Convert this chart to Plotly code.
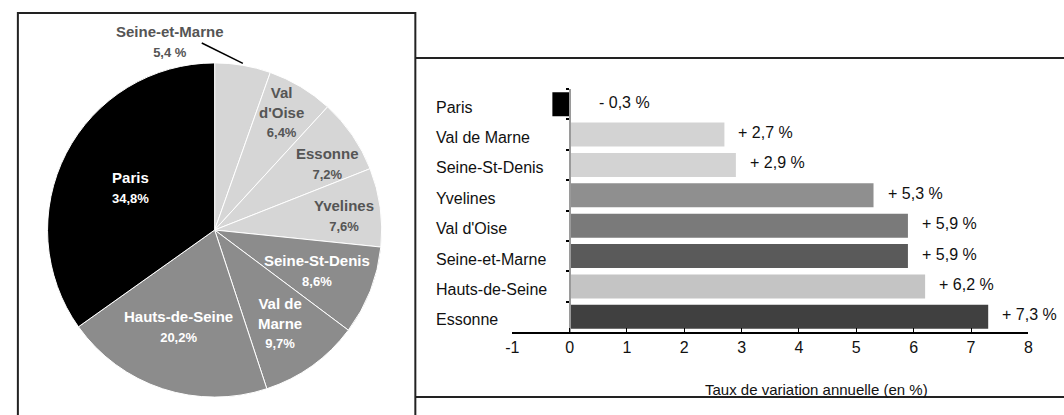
import math
import plotly.graph_objects as go

# ---------------- data ----------------
pie_labels = ["Seine-et-Marne", "Val d'Oise", "Essonne", "Yvelines",
              "Seine-St-Denis", "Val de Marne", "Hauts-de-Seine", "Paris"]
pie_values = [5.4, 6.4, 7.2, 7.6, 8.6, 9.7, 20.2, 34.8]
pie_text_names = ["Seine-et-Marne", "Val<br>d'Oise", "Essonne", "Yvelines",
                  "Seine-St-Denis", "Val de<br>Marne", "Hauts-de-Seine", "Paris"]
pie_text_pcts = ["5,4 %", "6,4%", "7,2%", "7,6%", "8,6%", "9,7%", "20,2%", "34,8%"]

bar_categories = ["Paris", "Val de Marne", "Seine-St-Denis", "Yvelines",
                  "Val d'Oise", "Seine-et-Marne", "Hauts-de-Seine", "Essonne"]
bar_values = [-0.3, 2.7, 2.9, 5.3, 5.9, 5.9, 6.2, 7.3]
x_ticks = [-1, 0, 1, 2, 3, 4, 5, 6, 7, 8]
x_title = "Taux de variation annuelle (en %)"

# ---------------- styles ----------------
W, H = 1064, 415
LIGHT, MID, BLACK = "#d6d6d6", "#8c8c8c", "#000000"
pie_colors = [LIGHT, LIGHT, LIGHT, LIGHT, MID, MID, MID, BLACK]
pie_text_colors = ["#555555", "#555555", "#555555", "#555555",
                   "#ffffff", "#ffffff", "#ffffff", "#ffffff"]
# label block centres in pixels
pie_text_pos = [(165, 41.5), (278, 112), (324, 163), (341, 215),
                (314, 270.5), (276, 322.5), (173, 326), (125, 187.5)]
bar_colors = ["#000000", "#d3d3d3", "#d3d3d3", "#8f8f8f",
              "#7a7a7a", "#5a5a5a", "#c4c4c4", "#404040"]
FONT = "Liberation Sans, Arial, sans-serif"


def px(x):
    return x / W


def py(y):
    return 1 - y / H


fig = go.Figure()

# pie
pcx, pcy, pr = 210, 230, 169
fig.add_trace(go.Pie(
    labels=pie_labels, values=pie_values, sort=False, direction="clockwise",
    rotation=0, textinfo="none", hoverinfo="skip", showlegend=False,
    marker=dict(colors=pie_colors, line=dict(color="white", width=1)),
    domain=dict(x=[px(pcx - pr), px(pcx + pr)], y=[py(pcy + pr), py(pcy - pr)]),
))

# bars
fig.add_trace(go.Bar(
    y=bar_categories, x=bar_values, orientation="h",
    marker=dict(color=bar_colors, line=dict(width=0)),
    hoverinfo="skip", showlegend=False, xaxis="x", yaxis="y",
))

ann = []
# pie labels
for name, pct, col, (x, y) in zip(pie_text_names, pie_text_pcts, pie_text_colors, pie_text_pos):
    ann.append(dict(
        x=px(x), y=py(y), xref="paper", yref="paper", showarrow=False,
        xanchor="center", yanchor="middle", align="center",
        text=f"<b>{name}</b><br><b><span style='font-size:13px'>{pct}</span></b>",
        font=dict(family=FONT, size=15, color=col),
    ))

# bar category labels
for c in bar_categories:
    ann.append(dict(x=px(432), y=c, xref="paper", yref="y", showarrow=False,
                    xanchor="left", yanchor="middle", yshift=-3, text=c,
                    font=dict(family=FONT, size=16, color="#111111")))

# value labels
for c, v in zip(bar_categories, bar_values):
    sign = "+" if v >= 0 else "-"
    txt = f"{sign} {abs(v):.1f}".replace(".", ",") + " %"
    ann.append(dict(x=max(v, 0), y=c, xref="x", yref="y", showarrow=False,
                    xanchor="left", yanchor="middle", yshift=2,
                    xshift=27 if v < 0 else 12, text=txt,
                    font=dict(family=FONT, size=16, color="#111111")))

# x axis title
ann.append(dict(x=px(819), y=py(389), xref="paper", yref="paper", showarrow=False,
                xanchor="center", yanchor="middle", text=x_title,
                font=dict(family=FONT, size=15, color="#111111")))

# leader line for Seine-et-Marne (to slice mid-angle on the rim)
mid = pie_values[0] / 2 / sum(pie_values) * 2 * math.pi
ex, ey = pcx + pr * math.sin(mid), pcy - pr * math.cos(mid)

shapes = [
    dict(type="line", xref="paper", yref="paper", x0=px(197), y0=py(43),
         x1=px(ex), y1=py(ey), line=dict(color="black", width=1.5)),
    # left panel frame
    dict(type="rect", xref="paper", yref="paper", x0=px(11), y0=py(430),
         x1=px(413), y1=py(13), line=dict(color="#222222", width=2)),
    # right panel lines
    dict(type="line", xref="paper", yref="paper", x0=px(413), y0=py(58),
         x1=px(1070), y1=py(58), line=dict(color="#222222", width=2)),
    dict(type="line", xref="paper", yref="paper", x0=px(413), y0=py(397),
         x1=px(1070), y1=py(397), line=dict(color="#222222", width=2)),
]

fig.update_layout(
    width=W, height=H, margin=dict(l=0, r=0, t=0, b=0),
    paper_bgcolor="white", plot_bgcolor="rgba(0,0,0,0)",
    bargap=0.21, annotations=ann, shapes=shapes,
    xaxis=dict(domain=[px(511), px(1033)], range=[-1, 8], anchor="y",
               tickvals=x_ticks, ticktext=[str(t) for t in x_ticks],
               showgrid=False, zeroline=False, showline=True,
               linecolor="black", linewidth=2, ticks="inside", ticklen=4,
               tickcolor="black", tickwidth=1,
               tickfont=dict(family=FONT, size=16, color="#111111")),
    yaxis=dict(domain=[py(332), py(89)], type="category",
               range=[7.5, -0.5], anchor="free", position=px(569),
               showgrid=False, zeroline=False, showline=True,
               linecolor="#9a9a9a", linewidth=2, ticks="outside",
               tickson="boundaries", ticklen=3, tickwidth=2,
               tickcolor="black", showticklabels=False),
)

fig.write_html(
    "out.html",
    config={"displayModeBar": False, "staticPlot": True},
    post_script="document.body.style.margin='0';"
                "document.documentElement.style.overflow='hidden';"
                "document.body.style.overflow='hidden';",
)
